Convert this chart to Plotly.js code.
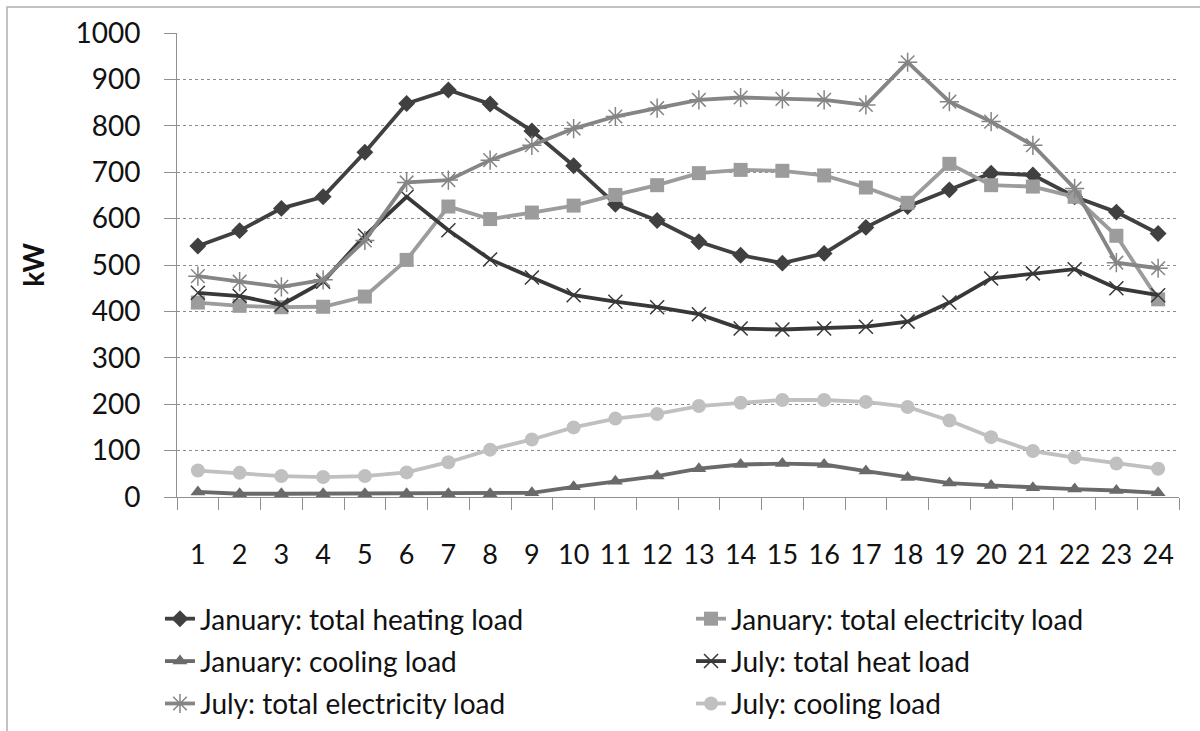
<!DOCTYPE html>
<html>
<head>
<meta charset="utf-8">
<script src="https://cdn.plot.ly/plotly-3.0.1.min.js"></script>
<style>html,body{margin:0;padding:0;background:#fff;}#chart{width:1200px;height:731px;}</style>
</head>
<body>
<div id="chart"></div>
<script>
const hours = ["1","2","3","4","5","6","7","8","9","10","11","12","13","14","15","16","17","18","19","20","21","22","23","24"];
const janHeating = [541,574,622,647,743,848,877,847,789,714,631,596,550,521,504,525,581,626,662,698,694,647,614,568];
const janElectricity = [419,412,409,410,432,511,626,599,613,628,651,672,698,705,703,693,667,634,718,672,669,647,563,426];
const janCooling = [11,7,7,7,7,7,7,7,9,22,34,45,61,70,72,70,56,42,30,25,20,17,14,9];
const julHeat = [440,433,414,464,563,647,575,512,473,435,421,409,394,363,361,363,367,378,419,471,482,491,450,435];
const julElectricity = [476,464,453,468,553,678,683,726,758,794,820,838,856,861,858,856,845,937,852,809,758,665,505,493];
const julCooling = [57,52,45,43,45,53,75,102,124,150,169,179,196,203,209,209,205,194,165,129,99,85,72,61];
const seriesNames = ["January: total heating load","January: total electricity load","January: cooling load","July: total heat load","July: total electricity load","July: cooling load"];
const yTicks = [0,100,200,300,400,500,600,700,800,900,1000];

const FONT = "Lato, 'Open Sans', sans-serif";

function tr(y, name, color, symbol, size, lineMarker, legendRef, group){
  const m = {symbol: symbol, size: size, color: color};
  if (lineMarker) { m.line = {color: color, width: 1.5}; }
  else { m.line = {width: 0}; }
  return {x: hours, y: y, name: name, type: 'scatter', mode: 'lines+markers',
    line: {color: color, width: 3.8}, marker: m, legend: legendRef, legendgroup: group};
}

const data = [
  tr(janHeating, seriesNames[0], '#404040', 'diamond', 13, false, 'legend', 'a'),
  tr(janElectricity, seriesNames[1], '#9c9c9c', 'square', 14, false, 'legend2', 'b'),
  tr(janCooling, seriesNames[2], '#6a6a6a', 'triangle-up', 13, false, 'legend', 'c'),
  tr(julHeat, seriesNames[3], '#383838', 'x-thin-open', 14, true, 'legend2', 'd'),
  tr(julElectricity, seriesNames[4], '#858585', 'asterisk-open', 16, true, 'legend', 'e'),
  tr(julCooling, seriesNames[5], '#c0c0c0', 'circle', 14, false, 'legend2', 'f')
];

const legendBase = {
  orientation: 'v', xanchor: 'left', y: -0.209, yanchor: 'top',
  font: {family: FONT, size: 28, color: '#111'},
  bgcolor: 'rgba(0,0,0,0)', tracegroupgap: 3, itemwidth: 30
};

const layout = {
  width: 1200, height: 731,
  margin: {l: 177, r: 21, t: 33, b: 234, autoexpand: false},
  paper_bgcolor: '#ffffff', plot_bgcolor: '#ffffff',
  font: {family: FONT, color: '#111'},
  showlegend: true,
  xaxis: {
    type: 'category', range: [-0.5, 23.5],
    tickson: 'boundaries', ticks: 'outside', ticklen: 12, tickcolor: '#909090', tickwidth: 1,
    showline: true, linecolor: '#909090', linewidth: 1,
    showgrid: false, zeroline: false,
    tickfont: {family: FONT, size: 27, color: '#111'},
    ticklabelstandoff: 34
  },
  yaxis: {
    range: [0, 1000], tickvals: yTicks, ticktext: yTicks.map(String),
    ticks: 'outside', ticklen: 12, tickcolor: '#909090', tickwidth: 1,
    showline: true, linecolor: '#909090', linewidth: 1,
    showgrid: true, gridcolor: '#8c8c8c', griddash: 'dot', gridwidth: 1,
    zeroline: false,
    tickfont: {family: FONT, size: 28, color: '#111'},
    ticklabelstandoff: 18,
    title: {text: '<b>kW</b>', font: {family: FONT, size: 28, color: '#111'}, standoff: 22}
  },
  legend: Object.assign({}, legendBase, {x: -0.017}),
  legend2: Object.assign({}, legendBase, {x: 0.513}),
  shapes: [{
    type: 'rect', xref: 'paper', yref: 'paper',
    x0: -170/1002, x1: 1.03, y0: -1.0, y1: 1 + 26/464,
    line: {color: '#b0b0b0', width: 1.5}, fillcolor: 'rgba(0,0,0,0)', layer: 'below'
  }]
};

Plotly.newPlot('chart', data, layout, {staticPlot: true, displayModeBar: false});
</script>
</body>
</html>
